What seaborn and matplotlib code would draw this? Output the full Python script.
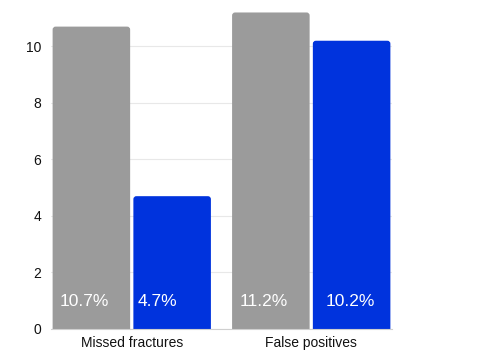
import matplotlib
matplotlib.use("Agg")
import matplotlib.pyplot as plt
from matplotlib.patches import FancyBboxPatch
import pandas as pd
import seaborn as sns

# data
categories = ["Missed fractures", "False positives"]
series = ["Without AI", "With AI"]
without_ai = [10.7, 11.2]
with_ai = [4.7, 10.2]
yticks = [0, 2, 4, 6, 8, 10]

colors = ["#9b9b9b", "#0033dd"]

df = pd.DataFrame({
    "category": categories * 2,
    "group": [series[0]] * 2 + [series[1]] * 2,
    "value": without_ai + with_ai,
})

sns.set_style("white")
plt.rcParams["font.family"] = ["Liberation Sans", "DejaVu Sans"]

fig = plt.figure(figsize=(4.79, 3.6), dpi=100)
ax = fig.add_axes([51 / 479, 31 / 360, 341 / 479, 325 / 360])

sns.barplot(data=df, x="category", y="value", hue="group", order=categories,
            hue_order=series, palette=colors, width=0.9, gap=0.04,
            saturation=1, legend=False, ax=ax)

ax.set_xlim(-0.45, 1.45)
ax.set_ylim(0, 11.5)
ax.set_yticks(yticks)
ax.set_xlabel("")
ax.set_ylabel("")
ax.grid(axis="y", color="#e8e8e8", linewidth=0.8)
ax.set_axisbelow(True)
for s in ["top", "right", "left"]:
    ax.spines[s].set_visible(False)
ax.spines["bottom"].set_color("#cfcfcf")
ax.spines["bottom"].set_linewidth(0.8)
ax.tick_params(axis="both", length=0, labelsize=10, colors="#111111")
ax.tick_params(axis="y", pad=7)
ax.tick_params(axis="x", pad=5)

# rounded top corners: replace the seaborn rectangles
px_x = 341 / 1.9
px_y = 325 / 11.5
bars = list(ax.patches)
labels = [f"{v}%" for v in without_ai] + [f"{v}%" for v in with_ai]
label_dx = [5, 5.5, 3, 9.5]  # points, left inset of each value label
for bar, lab, dx in zip(bars, labels, label_dx):
    x, w, h = bar.get_x(), bar.get_width(), bar.get_height()
    fc = bar.get_facecolor()
    bar.remove()
    r = 3 / px_x
    rounded = FancyBboxPatch((x, -0.5), w, h + 0.5,
                             boxstyle=f"round,pad=0,rounding_size={r}",
                             mutation_aspect=px_x / px_y,
                             facecolor=fc, edgecolor="none", zorder=2)
    ax.add_patch(rounded)
    ax.annotate(lab, xy=(x, 0), xytext=(dx, 19.5), textcoords="offset points",
                ha="left", va="center", color="white", fontsize=12.5,
                zorder=3)

fig.savefig("out.png", dpi=100)
